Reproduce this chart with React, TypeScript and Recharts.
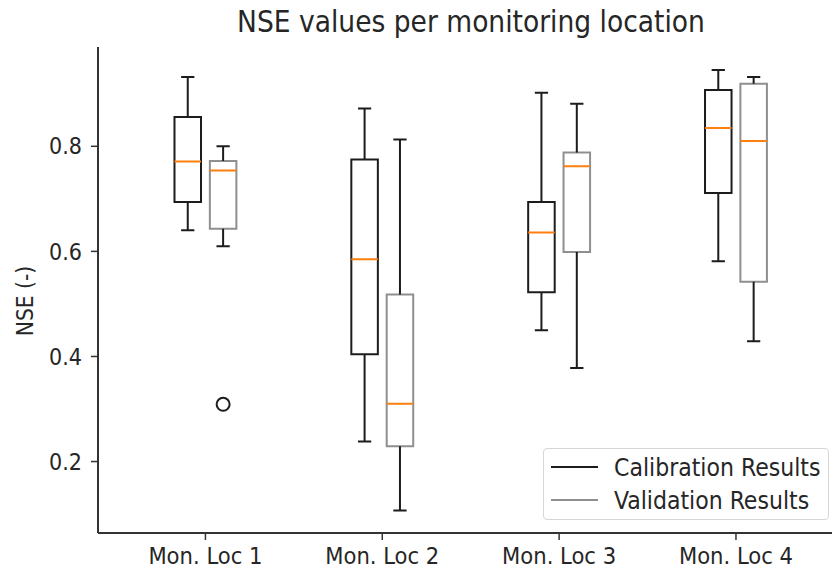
import React from 'react';
import { ComposedChart, Line, Scatter, XAxis, YAxis } from 'recharts';

const categories = ['Mon. Loc 1', 'Mon. Loc 2', 'Mon. Loc 3', 'Mon. Loc 4'];
const positions = [1, 2, 3, 4];

// calibration box stats
const calMin = [0.64, 0.238, 0.45, 0.581];
const calQ1 = [0.694, 0.404, 0.522, 0.711];
const calMed = [0.771, 0.585, 0.636, 0.835];
const calQ3 = [0.856, 0.775, 0.694, 0.907];
const calMax = [0.932, 0.872, 0.902, 0.945];

// validation box stats
const valMin = [0.61, 0.107, 0.378, 0.429];
const valQ1 = [0.643, 0.229, 0.599, 0.542];
const valMed = [0.754, 0.31, 0.762, 0.81];
const valQ3 = [0.772, 0.518, 0.788, 0.919];
const valMax = [0.8, 0.813, 0.881, 0.932];

const valOutliers = [{ loc: 1, value: 0.309 }];

const yTicks = [0.2, 0.4, 0.6, 0.8];

const FONT = '"DejaVu Sans Condensed", "DejaVu Sans", sans-serif';
const TEXT = '#262626';
const CAL = '#1c1c1c';
const VAL = '#8f8f8f';
const MED = '#ff7f0e';

const SHIFT = 0.1;
const HALF = 0.075;
const CAP = 0.0375;

type Pt = { x: number; y: number | null };

function boxes(sign: number, q1: number[], q3: number[]): Pt[] {
  const out: Pt[] = [];
  positions.forEach((p, i) => {
    const c = p + sign * SHIFT;
    out.push(
      { x: c - HALF, y: q1[i] },
      { x: c + HALF, y: q1[i] },
      { x: c + HALF, y: q3[i] },
      { x: c - HALF, y: q3[i] },
      { x: c - HALF, y: q1[i] },
      { x: c - HALF, y: null },
    );
  });
  return out;
}

function whiskers(sign: number, lo: number[], q1: number[], q3: number[], hi: number[]): Pt[] {
  const out: Pt[] = [];
  positions.forEach((p, i) => {
    const c = p + sign * SHIFT;
    out.push(
      { x: c, y: q1[i] }, { x: c, y: lo[i] }, { x: c, y: null },
      { x: c - CAP, y: lo[i] }, { x: c + CAP, y: lo[i] }, { x: c + CAP, y: null },
      { x: c, y: q3[i] }, { x: c, y: hi[i] }, { x: c, y: null },
      { x: c - CAP, y: hi[i] }, { x: c + CAP, y: hi[i] }, { x: c + CAP, y: null },
    );
  });
  return out;
}

function medians(): Pt[] {
  const out: Pt[] = [];
  positions.forEach((p, i) => {
    [[-1, calMed[i]], [1, valMed[i]]].forEach(([s, m]) => {
      const c = p + s * SHIFT;
      out.push({ x: c - HALF, y: m }, { x: c + HALF, y: m }, { x: c + HALF, y: null });
    });
  });
  return out;
}

const calBoxData = boxes(-1, calQ1, calQ3);
const valBoxData = boxes(1, valQ1, valQ3);
const calWhiskData = whiskers(-1, calMin, calQ1, calQ3, calMax);
const valWhiskData = whiskers(1, valMin, valQ1, valQ3, valMax);
const medianData = medians();
const outlierData = valOutliers.map((o) => ({ x: o.loc + SHIFT, y: o.value }));

const xDomain = [0.3925, 4.6075];
const yDomain = [0.064, 0.989];

const legendItems = [
  { name: 'Calibration Results', color: CAL },
  { name: 'Validation Results', color: VAL },
];

const Ring = (props: any) => (
  <circle cx={props.cx} cy={props.cy} r={6.5} fill="none" stroke={CAL} strokeWidth={2} />
);

export default function App() {
  const lineProps = {
    dataKey: 'y',
    type: 'linear' as const,
    dot: false,
    activeDot: false,
    isAnimationActive: false,
    strokeWidth: 2,
    connectNulls: false,
  };
  return (
    <div
      style={{
        position: 'absolute',
        left: 0,
        top: 0,
        width: 832,
        height: 569,
        overflow: 'hidden',
        background: '#fff',
        fontFamily: FONT,
        color: TEXT,
      }}
    >
      <ComposedChart
        width={860}
        height={569}
        margin={{ top: 47, right: 16.6, bottom: 6, left: 38 }}
      >
        <XAxis
          dataKey="x"
          type="number"
          domain={xDomain}
          allowDataOverflow
          ticks={positions}
          tickFormatter={(v: number) => categories[v - 1]}
          height={30}
          tickSize={7}
          tickMargin={7}
          axisLine={{ stroke: '#333', strokeWidth: 2 }}
          tickLine={{ stroke: '#333', strokeWidth: 1.5 }}
          tick={{ fill: TEXT, fontSize: 23.5, fontFamily: FONT }}
          interval={0}
        />
        <XAxis
          xAxisId="top"
          orientation="top"
          type="number"
          domain={xDomain}
          allowDataOverflow
          height={0}
          tick={false}
          tickLine={false}
          axisLine={{ stroke: '#333', strokeWidth: 2 }}
        />
        <YAxis
          type="number"
          domain={yDomain}
          allowDataOverflow
          ticks={yTicks}
          tickFormatter={(v: number) => v.toFixed(1)}
          width={60}
          tickSize={7}
          tickMargin={9}
          axisLine={{ stroke: '#333', strokeWidth: 2 }}
          tickLine={{ stroke: '#333', strokeWidth: 1.5 }}
          tick={{ fill: TEXT, fontSize: 23, fontFamily: FONT }}
        />
        <Line {...lineProps} data={calBoxData} stroke={CAL} strokeLinecap="square" name="Calibration Results" />
        <Line {...lineProps} data={calWhiskData} stroke={CAL} name="cal-whiskers" />
        <Line {...lineProps} data={valBoxData} stroke={VAL} strokeLinecap="square" name="Validation Results" />
        <Line {...lineProps} data={valWhiskData} stroke={CAL} name="val-whiskers" />
        <Line {...lineProps} data={medianData} stroke={MED} name="medians" />
        <Scatter data={outlierData} dataKey="y" shape={Ring} isAnimationActive={false} />
      </ComposedChart>

      <div
        style={{
          position: 'absolute',
          left: 98,
          width: 746,
          top: 5,
          textAlign: 'center',
          fontSize: 29.5,
          lineHeight: '34px',
          whiteSpace: 'nowrap',
        }}
      >
        NSE values per monitoring location
      </div>

      <div
        style={{
          position: 'absolute',
          left: 25,
          top: 301,
          transform: 'translate(-50%, -50%) rotate(-90deg)',
          fontSize: 22.5,
          whiteSpace: 'nowrap',
        }}
      >
        NSE (-)
      </div>

      <div
        style={{
          position: 'absolute',
          left: 543,
          top: 448,
          width: 286,
          height: 72,
          border: '1.5px solid #d6d6d6',
          borderRadius: 4,
          boxSizing: 'border-box',
          background: 'rgba(255,255,255,0.8)',
        }}
      >
        {legendItems.map((it, i) => (
          <div
            key={it.name}
            style={{
              position: 'absolute',
              left: 7,
              top: 4 + i * 33,
              height: 28,
              display: 'flex',
              alignItems: 'center',
              fontSize: 24.5,
              whiteSpace: 'nowrap',
            }}
          >
            <span
              style={{
                display: 'inline-block',
                width: 47,
                height: 0,
                borderTop: `2.5px solid ${it.color}`,
                marginRight: 16,
              }}
            />
            {it.name}
          </div>
        ))}
      </div>
    </div>
  );
}
